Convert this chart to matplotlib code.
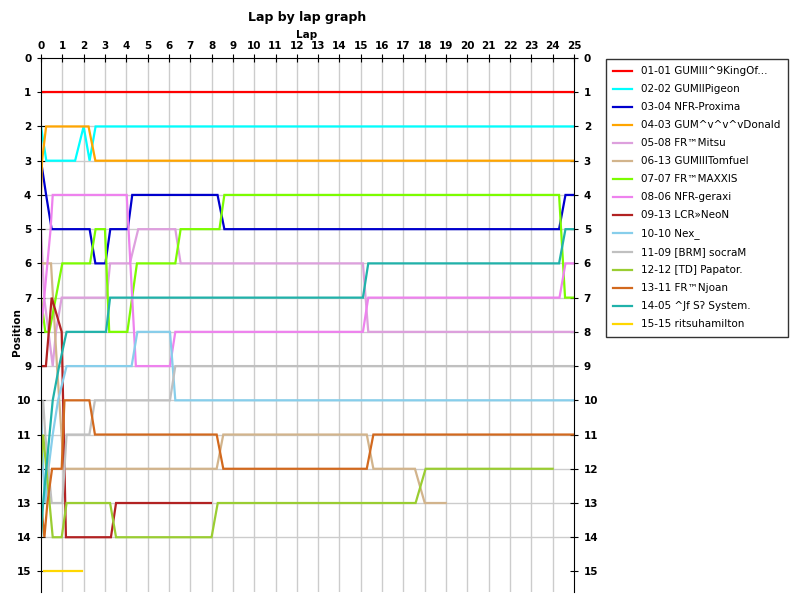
import matplotlib
matplotlib.use("Agg")
import matplotlib.pyplot as plt

names = [
    "01-01 GUMIII^9KingOf...",
    "02-02 GUMIIPigeon",
    "03-04 NFR-Proxima",
    "04-03 GUM^v^v^vDonald",
    "05-08 FR™Mitsu",
    "06-13 GUMIIITomfuel",
    "07-07 FR™MAXXIS",
    "08-06 NFR-geraxi",
    "09-13 LCR»NeoN",
    "10-10 Nex_",
    "11-09 [BRM] socraM",
    "12-12 [TD] Papator.",
    "13-11 FR™Njoan",
    "14-05 ^Jf Sʔ System.",
    "15-15 ritsuhamilton",
]
colors = ["#FF0000", "#00FFFF", "#0000CD", "#FFA500", "#DDA0DD", "#D2B48C",
          "#7CFC00", "#EE82EE", "#B22222", "#87CEEB", "#C0C0C0", "#9ACD32",
          "#D2691E", "#20B2AA", "#FFD700"]

# lap (fraction of leader laps) and position for each driver
laps_01 = [0.1, 25]
pos_01 = [1, 1]
laps_02 = [0, 0.25, 1.6, 2.0, 2.28, 2.56, 25]
pos_02 = [2, 3, 3, 2, 3, 2, 2]
laps_03 = [0, 0.24, 0.5, 2.28, 2.55, 3.02, 3.25, 4.07, 4.28, 8.28, 8.6, 24.3, 24.6, 25]
pos_03 = [3, 4, 5, 5, 6, 6, 5, 5, 4, 4, 5, 5, 4, 4]
laps_04 = [0, 0.05, 0.24, 2.23, 2.55, 25]
pos_04 = [4, 3, 2, 2, 3, 3]
laps_05 = [0, 0.15, 0.35, 0.55, 0.7, 0.97, 3.08, 3.24, 4.17, 4.56, 6.3, 6.55, 15.1, 15.35, 25]
pos_05 = [5, 7, 8, 9, 8, 7, 7, 6, 6, 5, 5, 6, 6, 8, 8]
laps_06 = [0, 0.47, 0.75, 1.07, 8.24, 8.55, 15.28, 15.59, 17.54, 18.0, 18.98]
pos_06 = [6, 6, 9, 12, 12, 11, 11, 12, 12, 13, 13]
laps_07 = [0, 0.2, 0.39, 1.0, 2.3, 2.56, 3.0, 3.2, 4.05, 4.5, 6.3, 6.55, 8.37, 8.6, 24.3, 24.58, 25]
pos_07 = [7, 8, 8, 6, 6, 5, 5, 8, 8, 6, 6, 5, 5, 4, 4, 7, 7]
laps_08 = [0, 0.15, 0.3, 0.45, 0.55, 4.02, 4.45, 6.05, 6.3, 15.1, 15.35, 24.32, 24.6, 25]
pos_08 = [8, 7, 6, 5, 4, 4, 9, 9, 8, 8, 7, 7, 6, 6]
laps_09 = [0, 0.23, 0.5, 0.97, 1.17, 3.28, 3.52, 7.97]
pos_09 = [9, 9, 7, 8, 14, 14, 13, 13]
laps_10 = [0, 0.1, 0.2, 0.35, 0.55, 0.8, 1.2, 4.25, 4.52, 6.05, 6.3, 25]
pos_10 = [10, 12, 13, 12, 11, 10, 9, 9, 8, 8, 10, 10]
laps_11 = [0, 0.1, 0.2, 0.35, 0.5, 1.0, 1.2, 2.27, 2.53, 6.05, 6.3, 25]
pos_11 = [11, 10, 11, 12, 13, 13, 11, 11, 10, 10, 9, 9]
laps_12 = [0, 0.1, 0.25, 0.4, 0.55, 0.97, 1.2, 3.24, 3.52, 8.0, 8.29, 17.57, 18.04, 24.0]
pos_12 = [12, 11, 12, 13, 14, 14, 13, 13, 14, 14, 13, 13, 12, 12]
laps_13 = [0, 0.16, 0.3, 0.52, 0.97, 1.1, 2.27, 2.53, 8.24, 8.55, 15.28, 15.59, 25]
pos_13 = [13, 14, 13, 12, 12, 10, 10, 11, 11, 12, 12, 11, 11]
laps_14 = [0, 0.1, 0.25, 0.4, 0.55, 0.85, 1.2, 3.05, 3.24, 15.1, 15.35, 24.3, 24.6, 25]
pos_14 = [14, 13, 12, 11, 10, 9, 8, 8, 7, 7, 6, 6, 5, 5]
laps_15 = [0.15, 1.93]
pos_15 = [15, 15]

all_laps = [laps_01, laps_02, laps_03, laps_04, laps_05, laps_06, laps_07, laps_08,
            laps_09, laps_10, laps_11, laps_12, laps_13, laps_14, laps_15]
all_pos = [pos_01, pos_02, pos_03, pos_04, pos_05, pos_06, pos_07, pos_08,
           pos_09, pos_10, pos_11, pos_12, pos_13, pos_14, pos_15]

fig = plt.figure(figsize=(8, 6), dpi=100)
ax = fig.add_axes([41 / 800, 8 / 600, 533 / 800, 534 / 600])

ax.set_xlim(0, 25)
ax.set_ylim(15.6, 0)

# grid
for x in range(1, 25):
    ax.axvline(x, color="#cccccc", lw=1, zorder=0)
for y in range(1, 15):
    ax.axhline(y, color="#cccccc", lw=1, zorder=0)

for lx, py, c, n in zip(all_laps, all_pos, colors, names):
    ax.plot(lx, py, color=c, lw=1.6, label=n, solid_joinstyle="miter")

ax.xaxis.tick_top()
ax.set_xticks(range(26))
ax.set_yticks(range(16))
ax.tick_params(axis="x", direction="inout", length=6, pad=2, labelsize=7.5)
ax.tick_params(axis="y", direction="inout", length=6, pad=4, labelsize=7.5,
               left=True, right=True, labelleft=True, labelright=True)
for t in ax.xaxis.get_major_ticks():
    t.label2.set_fontweight("bold")
for t in ax.yaxis.get_major_ticks():
    t.label1.set_fontweight("bold")
    t.label2.set_fontweight("bold")
ax.spines["bottom"].set_visible(False)

fig.text(307 / 800, 1 - 17 / 600, "Lap by lap graph", ha="center", va="center",
         fontsize=9, fontweight="bold")
fig.text(307 / 800, 1 - 35 / 600, "Lap", ha="center", va="center",
         fontsize=7.5, fontweight="bold")
fig.text(17 / 800, 1 - 332 / 600, "Position", ha="center", va="center",
         rotation=90, fontsize=7.5, fontweight="bold")

leg = ax.legend(loc="upper left", bbox_to_anchor=(606 / 800, 1 - 59 / 600),
                bbox_transform=fig.transFigure, fontsize=7.5, frameon=True,
                fancybox=False, edgecolor="black", handlelength=1.8,
                handletextpad=0.9, labelspacing=0.77, borderpad=0.7,
                borderaxespad=0)
leg.get_frame().set_linewidth(1)

fig.savefig("out.png", dpi=100)
